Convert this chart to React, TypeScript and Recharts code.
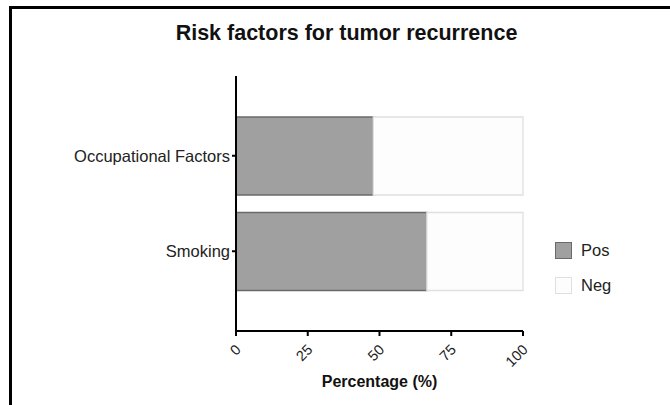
import React from "react";
import { BarChart, Bar, XAxis, YAxis } from "recharts";

const categories = ["Occupational Factors", "Smoking"];
const posValues = [47.8, 66.5];
const negValues = [52.2, 33.5];
const xTicks = [0, 25, 50, 75, 100];
const seriesNames = ["Pos", "Neg"];

const data = categories.map((c, i) => ({ name: c, Pos: posValues[i], Neg: negValues[i] }));

const FONT = "'Liberation Sans', Arial, Helvetica, sans-serif";
const POS_FILL = "#a0a0a0";
const POS_STROKE = "#6a6a6a";
const NEG_FILL = "#fdfdfd";
const NEG_STROKE = "#e0e0e0";

const XTick = (props: any) => {
  const { x, y, payload } = props;
  return (
    <g transform={`translate(${x + 2},${y + 9})`}>
      <text
        x={0}
        y={0}
        dy="0.35em"
        textAnchor="end"
        transform="rotate(-45)"
        fontSize={14.5}
        fontFamily={FONT}
        fill="#222"
      >
        {payload.value}
      </text>
    </g>
  );
};

export default function App() {
  return (
    <div style={{ position: "absolute", left: 0, top: 0, width: 670, height: 405, background: "#fff" }}>
      <div style={{ position: "absolute", left: 9, top: 6, width: 2.5, height: 399, background: "#000" }} />
      <div style={{ position: "absolute", left: 9, top: 6, width: 661, height: 2.5, background: "#000" }} />
      <div
        style={{
          position: "absolute",
          left: 0,
          width: 693,
          top: 22,
          textAlign: "center",
          fontFamily: FONT,
          fontWeight: "bold",
          fontSize: 21.5,
          lineHeight: "22px",
          color: "#111",
        }}
      >
        Risk factors for tumor recurrence
      </div>
      <div style={{ position: "absolute", left: 0, top: 0 }}>
        <BarChart
          width={670}
          height={405}
          data={data}
          layout="vertical"
          margin={{ top: 76, right: 147, bottom: 0, left: 0 }}
          barSize={78}
        >
          <XAxis
            type="number"
            domain={[0, 100]}
            ticks={xTicks}
            height={74}
            tick={<XTick />}
            tickSize={5}
            stroke="#000"
            axisLine={{ stroke: "#000", strokeWidth: 2 }}
            tickLine={{ stroke: "#000", strokeWidth: 2 }}
            label={{
              value: "Percentage (%)",
              position: "insideBottom",
              offset: 18,
              style: { fontFamily: FONT, fontWeight: "bold", fontSize: 16, fill: "#111" },
            }}
          />
          <YAxis
            type="category"
            dataKey="name"
            width={236}
            padding={{ top: 32, bottom: 32 }}
            tickSize={4}
            tickMargin={2}
            axisLine={{ stroke: "#000", strokeWidth: 2 }}
            tickLine={{ stroke: "#000", strokeWidth: 2 }}
            tick={{ fontFamily: FONT, fontSize: 16.5, fill: "#222" }}
          />
          <Bar dataKey="Pos" stackId="a" fill={POS_FILL} stroke={POS_STROKE} strokeWidth={1.3} isAnimationActive={false} />
          <Bar dataKey="Neg" stackId="a" fill={NEG_FILL} stroke={NEG_STROKE} strokeWidth={1.3} isAnimationActive={false} />
        </BarChart>
      </div>
      <div style={{ position: "absolute", left: 555, top: 233, fontFamily: FONT }}>
        {seriesNames.map((n, i) => (
          <div key={n} style={{ display: "flex", alignItems: "center", height: 35 }}>
            <div
              style={{
                width: 15,
                height: 15,
                background: i === 0 ? POS_FILL : NEG_FILL,
                border: `1.5px solid ${i === 0 ? POS_STROKE : NEG_STROKE}`,
                marginRight: 9,
              }}
            />
            <span style={{ fontSize: 16.5, color: "#222" }}>{n}</span>
          </div>
        ))}
      </div>
    </div>
  );
}
